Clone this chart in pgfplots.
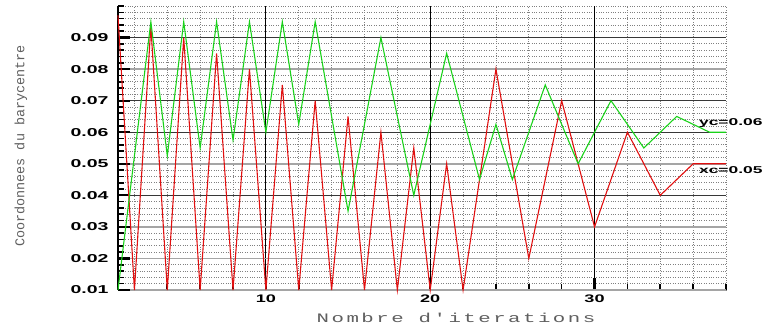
\documentclass[border=0pt]{standalone}
\usepackage{fontspec}
\setmainfont{Liberation Sans}
\newfontfamily\ylabfont{Liberation Mono}
\newfontfamily\xlabfont[LetterSpace=12,Ligatures=TeXOff]{Liberation Mono}
\usepackage{pgfplots}
\pgfplotsset{compat=1.18}
\definecolor{cred}{RGB}{225,15,15}
\definecolor{cgreen}{RGB}{25,210,25}
\definecolor{labgray}{RGB}{95,95,95}
\definecolor{gdark}{RGB}{55,55,55}
\definecolor{glight}{RGB}{165,165,165}
\newcommand{\tl}[1]{\scalebox{1.7}[1]{\fontsize{11.5}{12}\selectfont\bfseries #1}}
\newcommand{\xl}[1]{\scalebox{1.65}[1]{\fontsize{11}{12}\selectfont\bfseries #1}}
\begin{document}
\begin{tikzpicture}
\begin{axis}[
  scale only axis, width=608bp, height=284bp,
  xmin=1, xmax=38, ymin=0.01, ymax=0.1,
  clip=false,
  axis x line*=bottom, axis y line*=left,
  x axis line style={-, black, line width=1.2pt},
  y axis line style={-, black, line width=3pt},
  tick align=inside,
  major tick length=12bp, minor tick length=6bp,
  major tick style={black, line width=2.2pt},
  minor tick style={black, line width=1.6pt},
  xtick={10,20,30},
  xticklabels={},
  extra x ticks={10,20,30},
  extra x tick labels={\xl{10},\xl{20},\xl{30}},
  extra x tick style={major tick length=4bp, grid=major, major grid style={black, line width=1.2pt}},
  minor xtick={2,4,6,8,12,14,16,18,22,24,26,28,32,34,36,38},
  ytick={0.04,0.06,0.07,0.09},
  yticklabels={\tl{0.04},\tl{0.06},\tl{0.07},\tl{0.09}},
  extra y ticks={0.01,0.02,0.03,0.05,0.08},
  extra y tick labels={\tl{0.01},\tl{0.02},\tl{0.03},\tl{0.05},\tl{0.08}},
  extra y tick style={grid=major, major grid style={glight, line width=1.5pt}},
  minor ytick={0.012,0.014,0.016,0.018,0.022,0.024,0.026,0.028,0.032,0.034,0.036,0.038,0.042,0.044,0.046,0.048,0.052,0.054,0.056,0.058,0.062,0.064,0.066,0.068,0.072,0.074,0.076,0.078,0.082,0.084,0.086,0.088,0.092,0.094,0.096,0.098,0.1},
  grid=both,
  major grid style={gdark, line width=0.8pt},
  minor grid style={gray, dotted, line width=0.8pt},
  yticklabel style={xshift=-6bp},
  xticklabel style={yshift=-1bp},
]
\addplot[cred, line width=1.1pt] coordinates {
(1,0.097) (2,0.01) (3,0.0935) (4,0.01) (5,0.09) (6,0.01) (7,0.085) (8,0.01)
(9,0.08) (10,0.01) (11,0.075) (12,0.01) (13,0.07) (14,0.01) (15,0.065) (16,0.01)
(17,0.06) (18,0.01) (19,0.055) (20,0.01) (21,0.05) (22,0.01) (24,0.08) (26,0.02)
(28,0.07) (30,0.03) (32,0.06) (34,0.04) (36,0.05) (38,0.05)};
\addplot[cgreen, line width=1.1pt] coordinates {
(1,0.01) (3,0.095) (4,0.0525) (5,0.095) (6,0.055) (7,0.095) (8,0.0575) (9,0.095)
(10,0.06) (11,0.095) (12,0.0625) (13,0.095) (15,0.035) (17,0.09) (19,0.04) (21,0.085)
(23,0.045) (24,0.0625) (25,0.045) (27,0.075) (29,0.05) (31,0.07) (33,0.055) (35,0.065)
(37,0.06) (38,0.06)};
\node[anchor=west, inner sep=0pt] at (axis cs:36.35,0.0628) {\scalebox{1.75}[1]{\fontsize{10}{11}\selectfont\bfseries yc=0.06}};
\node[anchor=west, inner sep=0pt] at (axis cs:36.35,0.048) {\scalebox{1.75}[1]{\fontsize{10}{11}\selectfont\bfseries xc=0.05}};
\end{axis}
\node[rotate=90, text=labgray, font=\ylabfont\fontsize{13.5}{14}\selectfont] at ([xshift=-97bp,yshift=2bp]current axis.west) {Coordonnees du barycentre};
\node[text=labgray, font=\xlabfont\fontsize{13}{13}\selectfont] at ([xshift=34bp,yshift=-28bp]current axis.south) {\scalebox{1.6}[1]{Nombre d'iterations}};
\pgfresetboundingbox
\useasboundingbox ([xshift=-118bp,yshift=-41bp]current axis.south west) rectangle ([xshift=37bp,yshift=6bp]current axis.north east);
\end{tikzpicture}
\end{document}
